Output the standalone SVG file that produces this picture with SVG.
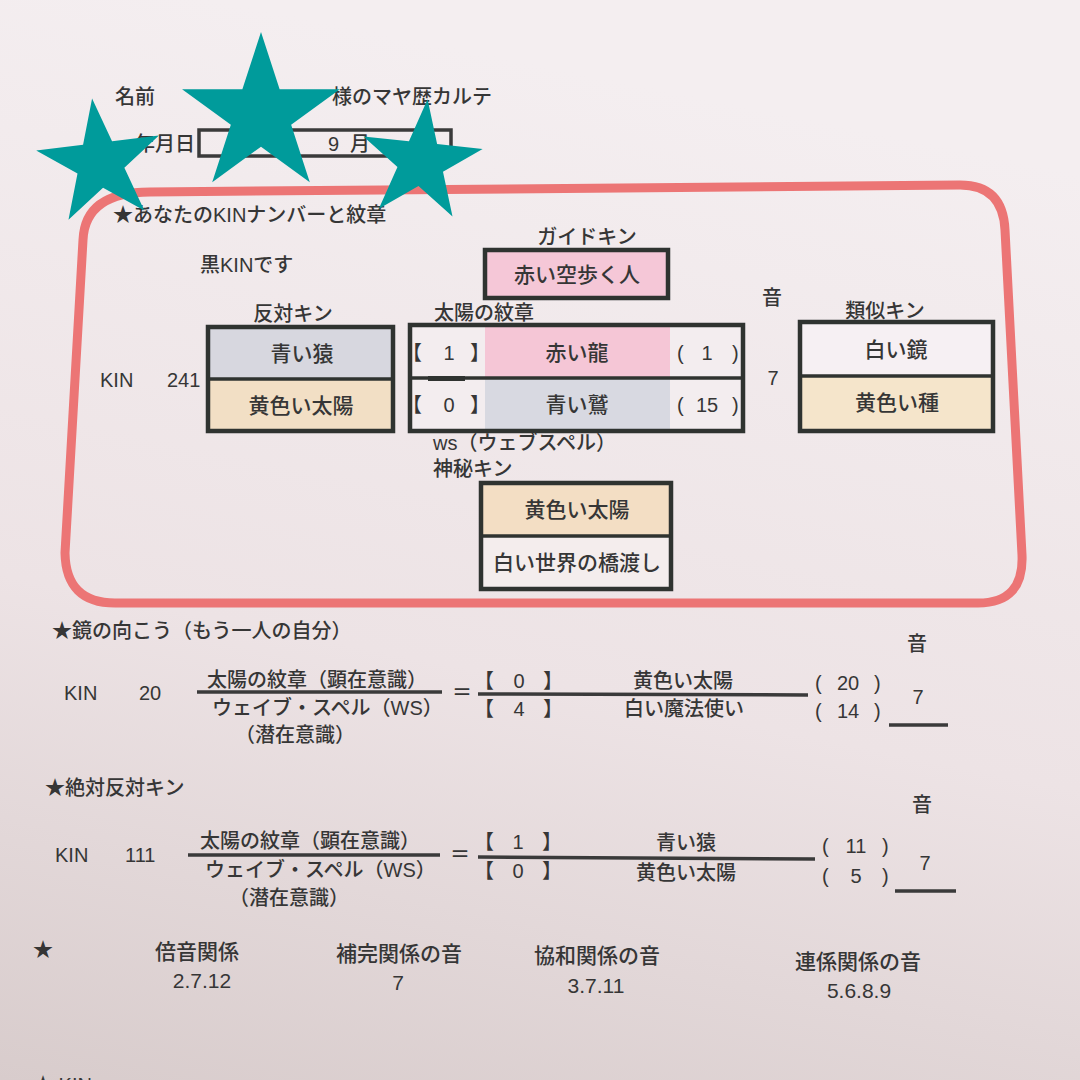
<svg xmlns="http://www.w3.org/2000/svg" width="1080" height="1080" viewBox="0 0 1080 1080">
<defs>
<linearGradient id="bg" x1="0.2" y1="0" x2="0" y2="1">
<stop offset="0" stop-color="#f4eef0"/>
<stop offset="0.55" stop-color="#ede3e5"/>
<stop offset="1" stop-color="#d8cccc"/>
</linearGradient>
<polygon id="star" points="0,-100 22.45,-30.9 95.11,-30.9 36.33,11.8 58.78,80.9 0,38.2 -58.78,80.9 -36.33,11.8 -95.11,-30.9 -22.45,-30.9"/>
</defs>
<style>
.t{font-family:"Liberation Sans","Noto Sans CJK JP",sans-serif;fill:#363636;font-size:20px;font-weight:500}
.b{font-size:21px}
.m{text-anchor:middle}
.box{fill:none;stroke:#2f3330;stroke-width:4.5}
.div{stroke:#2f3330;stroke-width:3.5}
.fl{stroke:#3a3a3a;stroke-width:3.5}
.st{fill:#009b9b}
.n{font-size:21px}
</style>
<rect width="1080" height="1080" fill="url(#bg)"/>

<g id="header">
<text class="t" x="115" y="104">名前</text>
<text class="t" x="332" y="104">様のマヤ歴カルテ</text>
<text class="t" x="135" y="151">年月日</text>
<rect x="199" y="130" width="252" height="26" fill="none" stroke="#3a3a3a" stroke-width="3.5"/>
<text class="t" x="328" y="151">9</text>
<text class="t" x="350" y="151">月</text>
</g>

<g id="frame">
<path d="M150,192 L960,185 Q1003,185 1005,230 L1022,555 Q1024,603 978,603 L115,603 Q66,603 65,553 L83,240 Q85,192 150,192 Z" fill="none" stroke="#ec7575" stroke-width="9"/>
</g>

<g id="section1">
<text class="t" x="113" y="222">★あなたのKINナンバーと紋章</text>
<text class="t" x="200" y="272">黒KINです</text>
<text class="t" x="100" y="387">KIN</text>
<text class="t" x="167" y="387">241</text>
<text class="t m" x="772" y="305">音</text>
<text class="t m" x="773" y="385">7</text>
</g>

<g id="guide-kin">
<text class="t m" x="587" y="244">ガイドキン</text>
<rect x="485" y="250" width="183" height="48" fill="#f5c7d7"/>
<rect class="box" x="485" y="250" width="183" height="48"/>
<text class="t b m" x="577" y="282">赤い空歩く人</text>
</g>

<g id="opposite-kin">
<text class="t m" x="293" y="321">反対キン</text>
<rect x="208" y="327" width="185" height="52" fill="#d7d7df"/>
<rect x="208" y="379" width="185" height="52" fill="#f2dfc5"/>
<rect class="box" x="208" y="327" width="185" height="104"/>
<line class="div" x1="208" y1="379" x2="393" y2="379"/>
<text class="t b m" x="302" y="361">青い猿</text>
<text class="t b m" x="301" y="413">黄色い太陽</text>
</g>

<g id="solar-seal">
<text class="t" x="434" y="320">太陽の紋章</text>
<rect x="410" y="325" width="333" height="106" fill="#f3edef"/>
<rect x="485" y="325" width="185" height="53" fill="#f5c6d6"/>
<rect x="485" y="378" width="185" height="53" fill="#d8d9e1"/>
<rect class="box" x="410" y="325" width="333" height="106"/>
<line class="div" x1="410" y1="378" x2="743" y2="378"/>
<rect x="428" y="376" width="37" height="5" fill="#2f3330"/>
<text class="t" x="402" y="360">【</text>
<text class="t m" x="449" y="360">1</text>
<text class="t" x="470" y="360">】</text>
<text class="t b m" x="577" y="360">赤い龍</text>
<text class="t" x="677" y="360">(</text>
<text class="t m" x="707" y="360">1</text>
<text class="t" x="732" y="360">)</text>
<text class="t" x="402" y="412">【</text>
<text class="t m" x="449" y="412">0</text>
<text class="t" x="470" y="412">】</text>
<text class="t b m" x="577" y="412">青い鷲</text>
<text class="t" x="677" y="412">(</text>
<text class="t m" x="707" y="412">15</text>
<text class="t" x="732" y="412">)</text>
<text class="t" x="433" y="450">ws（ウェブスペル）</text>
</g>

<g id="analog-kin">
<text class="t m" x="885" y="318">類似キン</text>
<rect x="800" y="322" width="193" height="54" fill="#f6f0f3"/>
<rect x="800" y="376" width="193" height="55" fill="#f5e5cb"/>
<rect class="box" x="800" y="322" width="193" height="109"/>
<line class="div" x1="800" y1="376" x2="993" y2="376"/>
<text class="t b m" x="896" y="357">白い鏡</text>
<text class="t b m" x="897" y="410">黄色い種</text>
</g>

<g id="occult-kin">
<text class="t" x="433" y="476">神秘キン</text>
<rect x="481" y="483" width="190" height="53" fill="#f3dec4"/>
<rect x="481" y="536" width="190" height="53" fill="#f4eded"/>
<rect class="box" x="481" y="483" width="190" height="106"/>
<line class="div" x1="481" y1="536" x2="671" y2="536"/>
<text class="t b m" x="577" y="517">黄色い太陽</text>
<text class="t b m" x="577" y="570">白い世界の橋渡し</text>
</g>

<g id="mirror-kin">
<text class="t" x="52" y="638">★鏡の向こう（もう一人の自分）</text>
<text class="t m" x="917" y="651">音</text>
<text class="t" x="64" y="700">KIN</text>
<text class="t" x="139" y="700">20</text>
<text class="t" x="207" y="687">太陽の紋章（顕在意識）</text>
<text class="t" x="212" y="715">ウェイブ・スペル（WS）</text>
<text class="t" x="235" y="742">（潜在意識）</text>
<text class="t m" x="462" y="700">＝</text>
<text class="t" x="474" y="688">【</text>
<text class="t m" x="519" y="688">0</text>
<text class="t" x="543" y="688">】</text>
<text class="t" x="474" y="716">【</text>
<text class="t m" x="519" y="716">4</text>
<text class="t" x="543" y="716">】</text>
<text class="t m" x="683" y="688">黄色い太陽</text>
<text class="t m" x="684" y="716">白い魔法使い</text>
<text class="t" x="815" y="690">(</text>
<text class="t m" x="848" y="690">20</text>
<text class="t" x="874" y="690">)</text>
<text class="t" x="815" y="718">(</text>
<text class="t m" x="848" y="718">14</text>
<text class="t" x="874" y="718">)</text>
<text class="t m" x="918" y="704">7</text>
</g>

<g id="absolute-opposite-kin">
<text class="t" x="45" y="795">★絶対反対キン</text>
<text class="t m" x="922" y="812">音</text>
<text class="t" x="55" y="862">KIN</text>
<text class="t" x="125" y="862">111</text>
<text class="t" x="200" y="848">太陽の紋章（顕在意識）</text>
<text class="t" x="205" y="877">ウェイブ・スペル（WS）</text>
<text class="t" x="229" y="905">（潜在意識）</text>
<text class="t m" x="460" y="862">＝</text>
<text class="t" x="474" y="849">【</text>
<text class="t m" x="518" y="849">1</text>
<text class="t" x="542" y="849">】</text>
<text class="t" x="474" y="878">【</text>
<text class="t m" x="518" y="878">0</text>
<text class="t" x="542" y="878">】</text>
<text class="t m" x="686" y="850">青い猿</text>
<text class="t m" x="686" y="880">黄色い太陽</text>
<text class="t" x="822" y="853">(</text>
<text class="t m" x="856" y="853">11</text>
<text class="t" x="882" y="853">)</text>
<text class="t" x="822" y="883">(</text>
<text class="t m" x="856" y="883">5</text>
<text class="t" x="882" y="883">)</text>
<text class="t m" x="925" y="870">7</text>
</g>

<g id="relations">
<text class="t" x="33" y="957">★</text>
<text class="t n m" x="197" y="959">倍音関係</text>
<text class="t n m" x="202" y="988">2.7.12</text>
<text class="t n m" x="399" y="961">補完関係の音</text>
<text class="t n m" x="398" y="990">7</text>
<text class="t n m" x="597" y="963">協和関係の音</text>
<text class="t n m" x="596" y="993">3.7.11</text>
<text class="t n m" x="858" y="969">連係関係の音</text>
<text class="t n m" x="859" y="998">5.6.8.9</text>
<text class="t" x="33" y="1092">★ KIN</text>
</g>

<g id="connectors">
<line class="fl" x1="197" y1="692" x2="442" y2="692"/>
<line class="fl" x1="478" y1="694" x2="808" y2="695"/>
<line class="fl" x1="889" y1="725" x2="948" y2="725"/>
<line class="fl" x1="188" y1="855" x2="440" y2="855"/>
<line class="fl" x1="478" y1="857" x2="815" y2="859"/>
<line class="fl" x1="895" y1="891" x2="956" y2="891"/>
</g>

<g id="stars">
<use href="#star" class="st" transform="translate(100,163) rotate(-7) scale(0.65)"/>
<use href="#star" class="st" transform="translate(261,115) scale(0.83)"/>
<use href="#star" class="st" transform="translate(421,162) rotate(6) scale(0.63)"/>
</g>
</svg>
